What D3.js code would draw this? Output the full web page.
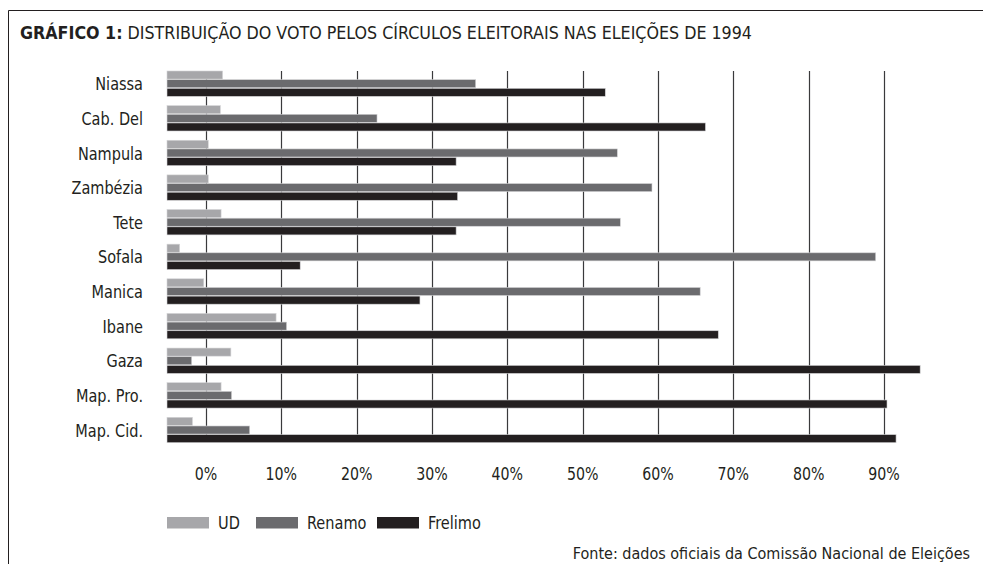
<!DOCTYPE html>
<html>
<head>
<meta charset="utf-8">
<script src="https://cdn.jsdelivr.net/npm/d3@7"></script>
<style>
  body { margin: 0; background: #fff; }
  svg text { font-family: "DejaVu Sans Condensed", "Liberation Sans Narrow", sans-serif; fill: #231f20; }
</style>
</head>
<body>
<div id="chart"></div>
<script>
// Values, in axis percent
var circles = ["Niassa", "Cab. Del", "Nampula", "Zambézia", "Tete", "Sofala", "Manica", "Ibane", "Gaza", "Map. Pro.", "Map. Cid."];
var parties = ["UD", "Renamo", "Frelimo"];
var ud      = [2.2, 1.9, 0.3, 0.3, 2.0, -3.5, -0.3, 9.3, 3.3, 2.0, -1.8];
var renamo  = [35.8, 22.7, 54.6, 59.2, 55.0, 88.9, 65.6, 10.7, -1.9, 3.4, 5.8];
var frelimo = [53.0, 66.3, 33.2, 33.4, 33.2, 12.5, 28.4, 68.0, 94.8, 90.4, 91.6];
var ticks   = [0, 10, 20, 30, 40, 50, 60, 70, 80, 90];
var colors  = ["#a7a7aa", "#6b6b6e", "#231f20"];

var width = 983, height = 564;
var series = [ud, renamo, frelimo];

// squeeze text horizontally, the original face is a tall narrow one
function condense(sel, k) {
  sel.each(function() {
    var w = this.getComputedTextLength();
    d3.select(this).attr("textLength", w * k).attr("lengthAdjust", "spacingAndGlyphs");
  });
}

var svg = d3.select("#chart").append("svg")
  .attr("width", width)
  .attr("height", height);

// frame: top and left rules
svg.append("path")
  .attr("d", "M8.5," + height + "V10.5H" + width)
  .attr("fill", "none")
  .attr("stroke", "#231f20")
  .attr("stroke-width", 1);

// title
var title = svg.append("text")
  .attr("x", 20)
  .attr("y", 39)
  .style("font-size", "17px");
title.append("tspan").style("font-weight", "bold").text("GRÁFICO 1:");
title.append("tspan").text(" DISTRIBUIÇÃO DO VOTO PELOS CÍRCULOS ELEITORAIS NAS ELEIÇÕES DE 1994");
title.attr("textLength", 732).attr("lengthAdjust", "spacingAndGlyphs");

// scales
var x = d3.scaleLinear()
  .domain([-5.18, 90])
  .range([167, 884]);

var y = d3.scaleBand()
  .domain(circles)
  .range([71, 443.3])
  .paddingInner(0.25)
  .paddingOuter(0);

var ySub = d3.scaleBand()
  .domain(parties)
  .range([0, y.bandwidth()]);

// gridlines
svg.append("g")
  .selectAll("line")
  .data(ticks)
  .enter().append("line")
  .attr("x1", function(d) { return Math.round(x(d)) + 0.5; })
  .attr("x2", function(d) { return Math.round(x(d)) + 0.5; })
  .attr("y1", 71)
  .attr("y2", 436)
  .attr("stroke", "#3a3a3c")
  .attr("stroke-width", 1.2);

// bars
var groups = svg.append("g")
  .selectAll("g")
  .data(circles)
  .enter().append("g")
  .attr("transform", function(d) { return "translate(0," + y(d) + ")"; });

groups.selectAll("rect")
  .data(function(d, i) {
    return parties.map(function(p, j) { return { party: p, value: series[j][i], idx: j }; });
  })
  .enter().append("rect")
  .attr("x", x(x.domain()[0]))
  .attr("y", function(d) { return ySub(d.party); })
  .attr("width", function(d) { return x(d.value) - x(x.domain()[0]); })
  .attr("height", ySub.bandwidth() - 0.6)
  .attr("fill", function(d) { return colors[d.idx]; })
  .attr("stroke", "#d4d4d6")
  .attr("stroke-width", 0.6);

// category labels
svg.append("g")
  .selectAll("text")
  .data(circles)
  .enter().append("text")
  .attr("x", 143)
  .attr("y", function(d) { return y(d) + y.bandwidth() / 2; })
  .attr("dy", "0.36em")
  .attr("text-anchor", "end")
  .style("font-size", "17.5px")
  .text(function(d) { return d; })
  .call(condense, 0.92);

// x tick labels
svg.append("g")
  .selectAll("text")
  .data(ticks)
  .enter().append("text")
  .attr("x", function(d) { return x(d); })
  .attr("y", 480)
  .attr("text-anchor", "middle")
  .style("font-size", "17.5px")
  .text(function(d) { return d + "%"; })
  .call(condense, 0.9);

// legend
var legendX = [167, 256, 377];
var legend = svg.append("g")
  .selectAll("g")
  .data(parties)
  .enter().append("g")
  .attr("transform", function(d, i) { return "translate(" + legendX[i] + ",517)"; });

legend.append("rect")
  .attr("width", 42)
  .attr("height", 11.5)
  .attr("fill", function(d, i) { return colors[i]; });

legend.append("text")
  .attr("x", 51)
  .attr("y", 12)
  .style("font-size", "17px")
  .text(function(d) { return d; })
  .call(condense, 0.95);

// source
svg.append("text")
  .attr("x", 970)
  .attr("y", 559)
  .attr("text-anchor", "end")
  .style("font-size", "16px")
  .text("Fonte: dados oficiais da Comissão Nacional de Eleições");
</script>
</body>
</html>
